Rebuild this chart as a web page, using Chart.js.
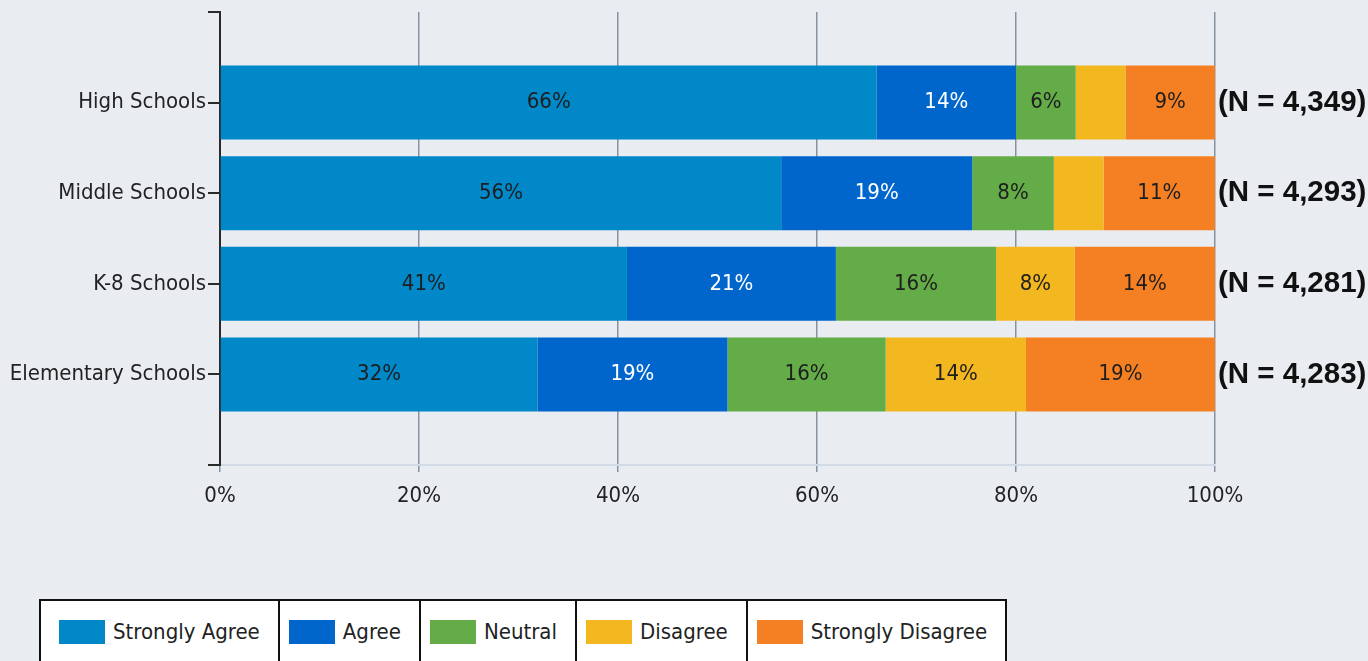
<!DOCTYPE html>
<html>
<head>
<meta charset="utf-8">
<script src="https://cdn.jsdelivr.net/npm/chart.js@4/dist/chart.umd.min.js"></script>
<style>
  html, body { margin: 0; padding: 0; background: #e9edf2; }
  #wrap { position: relative; width: 1368px; height: 661px; overflow: hidden; background: #e9edf2; }
  #c { position: absolute; left: 0; top: 0; }
  #legend {
    position: absolute; left: 39px; top: 599px; height: 80px;
    display: flex; border: 2px solid #111; background: #fff;
    font-family: 'Liberation Sans Narrow', 'DejaVu Sans Condensed', sans-serif;
    font-size: 22px; color: #222;
  }
  .cell { display: flex; align-items: flex-start; padding: 18px 18px 0 9px; border-left: 2px solid #111; height: 62px; box-sizing: content-box; }
  .cell:first-child { border-left: none; padding-left: 18px; }
  .sw { width: 46px; height: 24px; margin-right: 8px; margin-top: 1px; }
</style>
</head>
<body>
<div id="wrap">
  <canvas id="c" width="1368" height="661"></canvas>
  <div id="legend"></div>
</div>
<script>
const categories = ['High Schools', 'Middle Schools', 'K-8 Schools', 'Elementary Schools'];
const nLabels = ['(N = 4,349)', '(N = 4,293)', '(N = 4,281)', '(N = 4,283)'];
const seriesNames = ['Strongly Agree', 'Agree', 'Neutral', 'Disagree', 'Strongly Disagree'];
const stronglyAgree = [66.0, 56.4, 40.9, 31.9];
const agree = [14.0, 19.2, 21.0, 19.1];
const neutral = [6.0, 8.2, 16.1, 15.9];
const disagree = [5.0, 5.0, 7.9, 14.1];
const stronglyDisagree = [9.0, 11.2, 14.1, 19.0];
const xTicks = [0, 20, 40, 60, 80, 100];

const colors = ['#0088c8', '#0066cc', '#63ac47', '#f3b81f', '#f58023'];
const labelColors = ['#1e1e1e', '#ffffff', '#1e1e1e', '#1e1e1e', '#1e1e1e'];
const series = [stronglyAgree, agree, neutral, disagree, stronglyDisagree];

const FONT = "'Liberation Sans Narrow', 'DejaVu Sans Condensed', sans-serif";
const FS = 22;
const pad = arr => ['', ...arr, ''];
const padData = arr => [null, ...arr, null];

const barLabels = {
  id: 'barLabels',
  afterDatasetsDraw(chart) {
    const ctx = chart.ctx;
    ctx.save();
    ctx.font = FS + 'px ' + FONT;
    ctx.textAlign = 'center';
    ctx.textBaseline = 'middle';
    chart.data.datasets.forEach((ds, di) => {
      const meta = chart.getDatasetMeta(di);
      meta.data.forEach((el, i) => {
        const v = ds.data[i];
        if (v === null || v < 5.5) return;
        ctx.fillStyle = labelColors[di];
        ctx.fillText(Math.round(v) + '%', (el.x + el.base) / 2, el.y);
      });
    });
    ctx.restore();
  }
};

const noPad = s => { s.paddingTop = 0; s.paddingBottom = 0; };

const chart = new Chart(document.getElementById('c'), {
  type: 'bar',
  data: {
    labels: pad(categories),
    datasets: series.map((s, i) => ({
      label: seriesNames[i],
      data: padData(s),
      backgroundColor: colors[i],
      borderWidth: 0,
      categoryPercentage: 1,
      barPercentage: 0.817
    }))
  },
  options: {
    indexAxis: 'y',
    responsive: false,
    animation: false,
    layout: { padding: { top: 12, bottom: 0, left: 0, right: 0 } },
    plugins: { legend: { display: false }, tooltip: { enabled: false } },
    scales: {
      x: {
        stacked: true,
        min: 0, max: 100,
        afterBuildTicks: s => { s.ticks = xTicks.map(v => ({ value: v })); },
        afterFit: s => { s.height = 661 - 465; },
        ticks: {
          callback: v => v + '%',
          color: '#222',
          font: { family: FONT, size: FS },
          padding: 11,
          maxRotation: 0
        },
        grid: { color: '#8593a1', lineWidth: 1.5, tickLength: 7, drawTicks: true },
        border: { display: true, color: '#d2dae5', width: 2 }
      },
      y: {
        stacked: true,
        offset: false,
        afterFit: s => { s.width = 220; noPad(s); },
        ticks: {
          color: '#222',
          font: { family: FONT, size: FS },
          padding: 2,
          autoSkip: false
        },
        grid: { offset: false, drawOnChartArea: false, drawTicks: true, tickLength: 12, color: '#2a2a2a', lineWidth: 2 },
        border: { display: true, color: '#2a2a2a', width: 2 }
      },
      y2: {
        type: 'category',
        position: 'right',
        labels: pad(nLabels),
        offset: false,
        afterFit: s => { s.width = 1368 - 1215; noPad(s); },
        ticks: {
          color: '#111',
          font: { family: "'Liberation Sans', Arial, sans-serif", size: 29.5, weight: 'bold' },
          padding: 3,
          autoSkip: false
        },
        grid: { display: false, drawTicks: false, tickLength: 0, offset: false },
        border: { display: false }
      }
    }
  },
  plugins: [barLabels]
});

const legend = document.getElementById('legend');
chart.data.datasets.forEach(ds => {
  const cell = document.createElement('div');
  cell.className = 'cell';
  const sw = document.createElement('div');
  sw.className = 'sw';
  sw.style.background = ds.backgroundColor;
  const t = document.createElement('span');
  t.textContent = ds.label;
  cell.appendChild(sw);
  cell.appendChild(t);
  legend.appendChild(cell);
});
</script>
</body>
</html>
